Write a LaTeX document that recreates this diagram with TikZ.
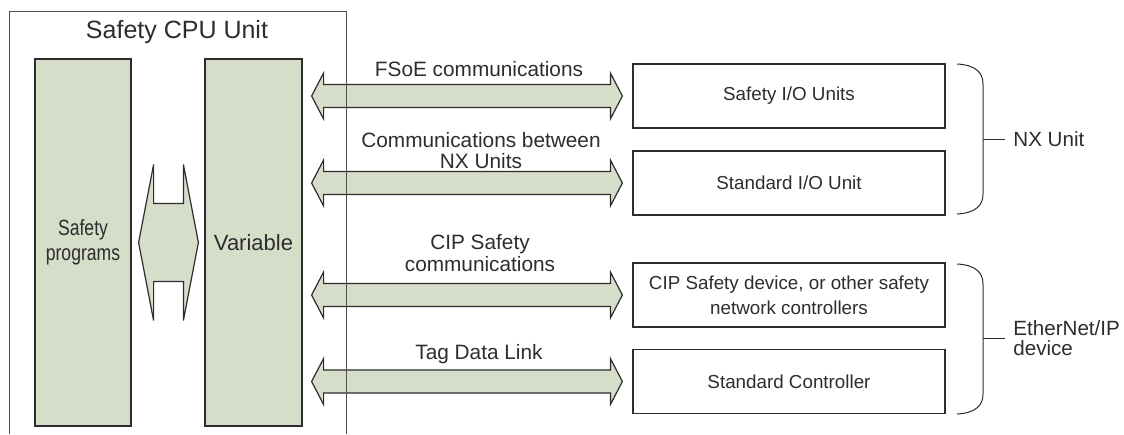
\documentclass[tikz,border=0pt]{standalone}
\usepackage{fontspec}
\setmainfont{Liberation Sans}
\newfontfamily\narrowfont[FakeStretch=0.8]{Liberation Sans}
\usetikzlibrary{calc,positioning}

\definecolor{panelgreen}{RGB}{214,221,201}
\definecolor{inkgray}{RGB}{45,45,45}
\definecolor{framegray}{RGB}{80,80,80}

\tikzset{
  panel/.style={draw=inkgray, fill=panelgreen, line width=0.6pt, inner sep=0pt,
    minimum width=48.5pt, minimum height=183.5pt, text=inkgray},
  devbox/.style={draw=inkgray, fill=white, line width=0.6pt, inner sep=0pt,
    minimum width=156pt, minimum height=32pt, align=center, text=inkgray,
    font=\fontsize{9.4}{12.5}\selectfont},
  flowlabel/.style={align=center, text=inkgray, inner sep=0pt,
    font=\fontsize{10.4}{10.6}\selectfont},
  linkfill/.style={draw=inkgray, fill=panelgreen, line width=0.6pt, line join=miter},
  bracket/.style={draw=inkgray, line width=0.5pt},
  grouplabel/.style={anchor=west, align=left, inner sep=4pt, text=inkgray,
    font=\fontsize{10.3}{10.3}\selectfont}
}

% fat double arrow: head length, head half width, shaft half width, left tip, right tip
\newcommand\linkarrow[5]{%
  \draw[linkfill] (#4) -- ++(#1,-#2) -- ++(0,#2-#3) -- ($(#5)+(-#1,-#3)$)
    -- ++(0,#3-#2) -- (#5) -- ++(-#1,#2) -- ++(0,#3-#2) -- ($(#4)+(#1,#3)$)
    -- ++(0,#2-#3) -- cycle;
}
% rounded bracket on the right of a group: top y, bottom y
\newcommand\groupbrace[2]{%
  \draw[bracket] (957,#1) .. controls (975,#1+1) and (983,#1+8) .. (983,#1+20)
    -- (983,#2-20) .. controls (983,#2-8) and (975,#2-1) .. (957,#2);
}

\begin{document}
\begin{tikzpicture}[x=0.5pt, y=-0.5pt]
  \useasboundingbox (0,0) rectangle (1124,434);

  % Safety CPU Unit frame (open at the bottom)
  \draw[framegray, line width=0.5pt] (9,434) -- (9,11) -- (346,11);
  \node[text=inkgray, font=\fontsize{12.5}{14}\selectfont] (cpu) at (177,32) {Safety CPU Unit};

  % inner panels
  \node[panel, minimum width=48pt, align=center, font=\narrowfont\fontsize{11}{12.5}\selectfont]
    (prog) at (83,242.5) {Safety\\programs};
  \node[panel, font=\fontsize{11}{13}\selectfont] (var) at (253.5,242.5) {Variable};
  \linkarrow{15}{78}{39}{$(prog.east)+(7,0)$}{$(var.west)+(-6,0)$}

  % units and devices on the right
  \node[devbox] (sio) at (789,96) {Safety I/O Units};
  \node[devbox] (stdio) at (789,183) {Standard I/O Unit};
  \node[devbox] (cipdev) at (789,295) {CIP Safety device, or other safety\\network controllers};
  \node[devbox] (ctrl) at (789,381.5) {Standard Controller};

  % communication paths
  \foreach \dev/\tag in {sio/a, stdio/b, cipdev/c, ctrl/d} {
    \path (var.east |- \dev.west) ++(9,0) coordinate (\tag L);
    \path (\dev.west) ++(-10,0) coordinate (\tag R);
    \linkarrow{12}{23}{11.5}{\tag L}{\tag R}
  }
  \node[flowlabel] (fsoe) at (479,69) {FSoE communications};
  \node[flowlabel] (nxcom) at (481,150.5) {Communications between\\NX Units};
  \node[flowlabel] (cipcom) at (480,253) {CIP Safety\\communications};
  \node[flowlabel] (tdl) at (479,354) {Tag Data Link};

  % right side of the frame goes over the arrows
  \draw[framegray, line width=0.5pt] (346,11) -- (346,434);

  % groups
  \groupbrace{64}{214}
  \node[grouplabel] (nxunit) at (1005,139) {NX Unit};
  \draw[bracket] (983,139) -- (nxunit.west);
  \groupbrace{264}{414}
  \node[grouplabel] (eip) at (1005,338) {EtherNet/IP\\device};
  \draw[bracket] (983,338) -- (eip.west);
\end{tikzpicture}
\end{document}
